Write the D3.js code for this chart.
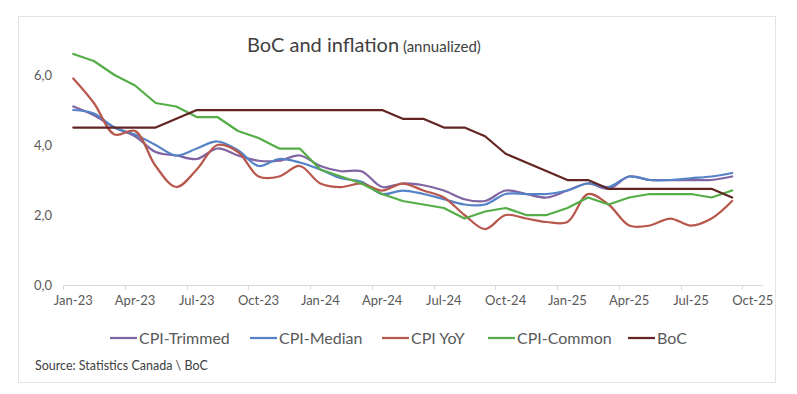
<!DOCTYPE html>
<html>
<head>
<meta charset="utf-8">
<script src="https://cdn.jsdelivr.net/npm/d3@7"></script>
<style>
  html, body { margin: 0; padding: 0; background: #fff; }
  svg { display: block; font-family: Lato, "Open Sans", sans-serif; }
</style>
</head>
<body>
<div id="chart"></div>
<script>
// Monthly categories (Oct-25 is an empty slot on the axis)
const months = [
  "Jan-23", "Feb-23", "Mar-23", "Apr-23", "May-23", "Jun-23", "Jul-23", "Aug-23", "Sep-23", "Oct-23", "Nov-23", "Dec-23",
  "Jan-24", "Feb-24", "Mar-24", "Apr-24", "May-24", "Jun-24", "Jul-24", "Aug-24", "Sep-24", "Oct-24", "Nov-24", "Dec-24",
  "Jan-25", "Feb-25", "Mar-25", "Apr-25", "May-25", "Jun-25", "Jul-25", "Aug-25", "Sep-25", "Oct-25"
];

const cpiTrimmed = [5.1, 4.85, 4.5, 4.25, 3.8, 3.7, 3.6, 3.9, 3.7, 3.55, 3.55, 3.7, 3.4, 3.25, 3.25, 2.8, 2.9, 2.85, 2.7, 2.45, 2.4, 2.7, 2.6, 2.5, 2.7, 2.9, 2.75, 3.1, 3.0, 3.0, 3.0, 3.0, 3.1];
const cpiMedian = [5.0, 4.9, 4.5, 4.3, 4.0, 3.7, 3.9, 4.1, 3.85, 3.4, 3.6, 3.5, 3.3, 3.05, 2.95, 2.6, 2.7, 2.6, 2.45, 2.3, 2.3, 2.6, 2.6, 2.6, 2.7, 2.9, 2.8, 3.1, 3.0, 3.0, 3.05, 3.1, 3.2];
const cpiYoY = [5.9, 5.2, 4.3, 4.4, 3.4, 2.8, 3.3, 4.0, 3.8, 3.1, 3.1, 3.4, 2.9, 2.8, 2.9, 2.7, 2.9, 2.7, 2.5, 2.0, 1.6, 2.0, 1.9, 1.8, 1.8, 2.6, 2.3, 1.7, 1.7, 1.9, 1.7, 1.9, 2.4];
const cpiCommon = [6.6, 6.4, 6.0, 5.7, 5.2, 5.1, 4.8, 4.8, 4.4, 4.2, 3.9, 3.9, 3.3, 3.1, 2.9, 2.6, 2.4, 2.3, 2.2, 1.9, 2.1, 2.2, 2.0, 2.0, 2.2, 2.5, 2.3, 2.5, 2.6, 2.6, 2.6, 2.5, 2.7];
const bocRate = [4.5, 4.5, 4.5, 4.5, 4.5, 4.75, 5.0, 5.0, 5.0, 5.0, 5.0, 5.0, 5.0, 5.0, 5.0, 5.0, 4.75, 4.75, 4.5, 4.5, 4.25, 3.75, 3.5, 3.25, 3.0, 3.0, 2.75, 2.75, 2.75, 2.75, 2.75, 2.75, 2.5];

const yTicks = [0, 2, 4, 6];
const xTickLabels = months.filter((m, i) => i % 3 === 0);

const series = [
  { name: "CPI-Trimmed", values: cpiTrimmed, color: "#8064a2", smooth: true },
  { name: "CPI-Median", values: cpiMedian, color: "#5582c6", smooth: true },
  { name: "CPI YoY", values: cpiYoY, color: "#b8574b", smooth: true },
  { name: "CPI-Common", values: cpiCommon, color: "#55ad48", smooth: false },
  { name: "BoC", values: bocRate, color: "#632523", smooth: false },
];

const WIDTH = 797;
const HEIGHT = 394;

const svg = d3
  .select("#chart")
  .append("svg")
  .attr("width", WIDTH)
  .attr("height", HEIGHT);

// chart frame
svg.append("rect")
  .attr("x", 18.5)
  .attr("y", 16.5)
  .attr("width", 757)
  .attr("height", 366)
  .attr("fill", "#fff")
  .attr("stroke", "#e3e3e3");

const x = d3.scaleBand(months, [63, 763]).paddingInner(0).paddingOuter(0);
const y = d3.scaleLinear([0, 7], [285, 40]);
const xc = (i) => x(months[i]) + x.bandwidth() / 2;

// title
const title = svg.append("text")
  .attr("x", 247)
  .attr("y", 52)
  .style("fill", "#404040");
title.append("tspan").text("BoC and inflation").style("font-size", "20px");
title.append("tspan").text(" (annualized)").style("font-size", "15px");

// y axis labels
svg.append("g")
  .attr("transform", "translate(56,0)")
  .call(
    d3.axisLeft(y)
      .tickValues(yTicks)
      .tickSize(0)
      .tickPadding(4)
      .tickFormat((d) => d3.format(".1f")(d).replace(".", ","))
  )
  .call((g) => g.select(".domain").remove())
  .call((g) => g.selectAll("text")
    .style("font-size", "13px")
    .style("font-family", "Lato, sans-serif")
    .style("fill", "#595959"));

// x axis baseline + tick marks
svg.append("line")
  .attr("x1", 63).attr("x2", 763)
  .attr("y1", y(0) + 0.5).attr("y2", y(0) + 0.5)
  .attr("stroke", "#d9d9d9");

svg.selectAll(".xtick")
  .data(xTickLabels)
  .enter()
  .append("line")
  .attr("class", "xtick")
  .attr("x1", (d) => Math.round(x(d)) + 0.5)
  .attr("x2", (d) => Math.round(x(d)) + 0.5)
  .attr("y1", y(0))
  .attr("y2", y(0) + 5)
  .attr("stroke", "#d9d9d9");

svg.append("g")
  .attr("transform", `translate(0,${y(0)})`)
  .call(d3.axisBottom(x).tickValues(xTickLabels).tickSize(0).tickPadding(11))
  .call((g) => g.select(".domain").remove())
  .call((g) => g.selectAll("text")
    .style("font-size", "13px")
    .style("font-family", "Lato, sans-serif")
    .style("fill", "#595959"));

// lines
series.forEach((s) => {
  const line = d3.line()
    .x((d, i) => xc(i))
    .y((d) => y(d))
    .curve(s.smooth ? d3.curveCatmullRom.alpha(0.5) : d3.curveLinear);

  svg.append("path")
    .datum(s.values)
    .attr("fill", "none")
    .attr("stroke", s.color)
    .attr("stroke-width", 2.25)
    .attr("stroke-linejoin", "round")
    .attr("stroke-linecap", "round")
    .attr("d", line);
});

// legend
const legendX = [110, 250, 382, 488, 628];
const legend = svg.append("g").attr("transform", "translate(0,338)");
series.forEach((s, i) => {
  legend.append("line")
    .attr("x1", legendX[i]).attr("x2", legendX[i] + 27)
    .attr("y1", 0).attr("y2", 0)
    .attr("stroke", s.color)
    .attr("stroke-width", 2.25);
  legend.append("text")
    .attr("x", legendX[i] + 29)
    .attr("y", 0)
    .attr("dy", "0.35em")
    .text(s.name)
    .style("font-size", "16px")
    .style("fill", "#595959");
});

// source
svg.append("text")
  .attr("x", 35)
  .attr("y", 370)
  .text("Source: Statistics Canada \\ BoC")
  .style("font-size", "12.5px")
  .style("fill", "#404040");
</script>
</body>
</html>
